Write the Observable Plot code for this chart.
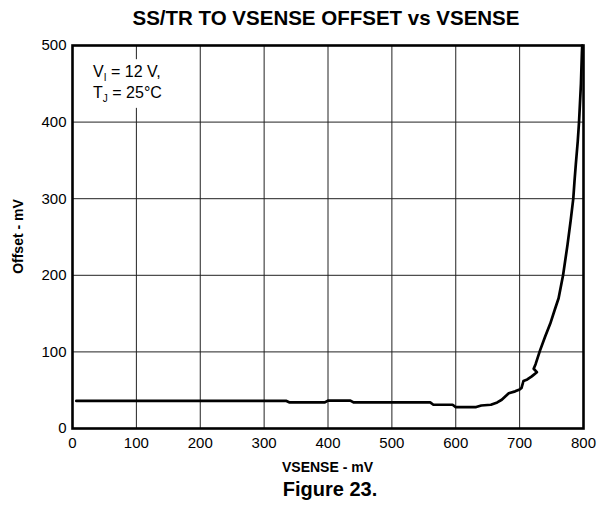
<!DOCTYPE html>
<html>
<head>
<meta charset="utf-8">
<script src="https://cdn.jsdelivr.net/npm/d3@7"></script>
<script src="https://cdn.jsdelivr.net/npm/@observablehq/plot@0.6"></script>
<style>
  body { margin: 0; background: #fff; font-family: "Liberation Sans", Arial, sans-serif; }
  #wrap { position: relative; width: 598px; height: 508px; }
  #title { position: absolute; left: 72px; width: 508px; top: 6px; text-align: center; font-weight: bold; font-size: 20.5px; line-height: 24px; color: #000; white-space: nowrap; }
  #chart { position: absolute; left: 0; top: 34px; }
  #caption { position: absolute; left: 72px; width: 516px; top: 477px; text-align: center; font-weight: bold; font-size: 20px; line-height: 24px; color: #000; }
</style>
</head>
<body>
<div id="wrap">
  <div id="title">SS/TR TO VSENSE OFFSET vs VSENSE</div>
  <div id="chart"></div>
  <div id="caption">Figure 23.</div>
</div>
<script>
const vsense = [6, 335, 340, 395, 400, 435, 440, 560, 565, 595, 600, 632, 640, 655, 665, 672, 683, 693, 700, 703, 706, 712, 719, 727, 722, 725, 732, 740, 748, 755, 761, 768, 775, 780, 784, 786, 788, 791, 793, 796, 797.5, 798];
const offset = [36, 36, 34, 34, 36.5, 36.5, 34, 34, 31, 31, 28, 28, 30, 31, 34, 37.5, 46, 48.5, 51, 53, 62, 64, 68, 73.5, 78, 84, 102, 120, 137, 155, 170, 200, 240, 272, 300, 324, 345, 375, 400, 450, 490, 500];
const xTicks = [0, 100, 200, 300, 400, 500, 600, 700, 800];
const yTicks = [0, 100, 200, 300, 400, 500];
const note1 = ["V", "I", " = 12 V,"];
const note2 = ["T", "J", " = 25°C"];

const data = vsense.map((v, i) => ({x: v, y: offset[i]}));
const FONT = "'Liberation Sans', Arial, sans-serif";

const plot = Plot.plot({
  width: 598,
  height: 442,
  marginLeft: 72,
  marginRight: 15,
  marginTop: 11,
  marginBottom: 48,
  style: {fontFamily: FONT, fontSize: "15px", color: "#000", background: "#fff"},
  x: {domain: [0, 800], ticks: xTicks, label: null},
  y: {domain: [0, 500], ticks: yTicks, label: null},
  marks: [
    Plot.gridX(xTicks, {stroke: "#222", strokeOpacity: 1, strokeWidth: 1}),
    Plot.gridY(yTicks, {stroke: "#222", strokeOpacity: 1, strokeWidth: 1}),
    Plot.axisX({ticks: xTicks, tickSize: 0, tickPadding: 9, fontSize: 15, label: null}),
    Plot.axisY({ticks: yTicks, tickSize: 0, tickPadding: 6, fontSize: 15, label: null}),
    Plot.line(data, {x: "x", y: "y", stroke: "#000", strokeWidth: 2.7, curve: "linear"}),
    Plot.frame({stroke: "#000", strokeWidth: 2.6})
  ]
});
document.getElementById("chart").appendChild(plot);

const svg = d3.select(plot);
const sx = plot.scale("x"), sy = plot.scale("y");

const noteGroup = svg.append("g");
const noteBg = noteGroup.append("rect").attr("fill", "#fff");
function note(parts, xv, yv) {
  const t = noteGroup.append("text")
    .attr("x", sx.apply(xv)).attr("y", sy.apply(yv))
    .attr("text-anchor", "start")
    .attr("font-size", 16).attr("fill", "#000")
    .attr("font-family", FONT);
  t.append("tspan").text(parts[0]);
  t.append("tspan").attr("font-size", 10).attr("dy", 4).text(parts[1]);
  t.append("tspan").attr("dy", -4).text(parts[2]);
}
note(note1, 33, 458);
note(note2, 33, 431);
const bb = noteGroup.node().getBBox();
noteBg.attr("x", bb.x - 6).attr("y", bb.y - 4).attr("width", bb.width + 10).attr("height", bb.height + 8);

// axis titles
svg.append("text")
  .attr("x", (sx.range[0] + sx.range[1]) / 2).attr("y", 438)
  .attr("text-anchor", "middle").attr("font-weight", "bold").attr("font-size", 14)
  .attr("font-family", FONT)
  .text("VSENSE - mV");
svg.append("text")
  .attr("transform", `translate(23, ${(sy.range[0] + sy.range[1]) / 2}) rotate(-90)`)
  .attr("text-anchor", "middle").attr("font-weight", "bold").attr("font-size", 14)
  .attr("font-family", FONT)
  .text("Offset - mV");
</script>
</body>
</html>
